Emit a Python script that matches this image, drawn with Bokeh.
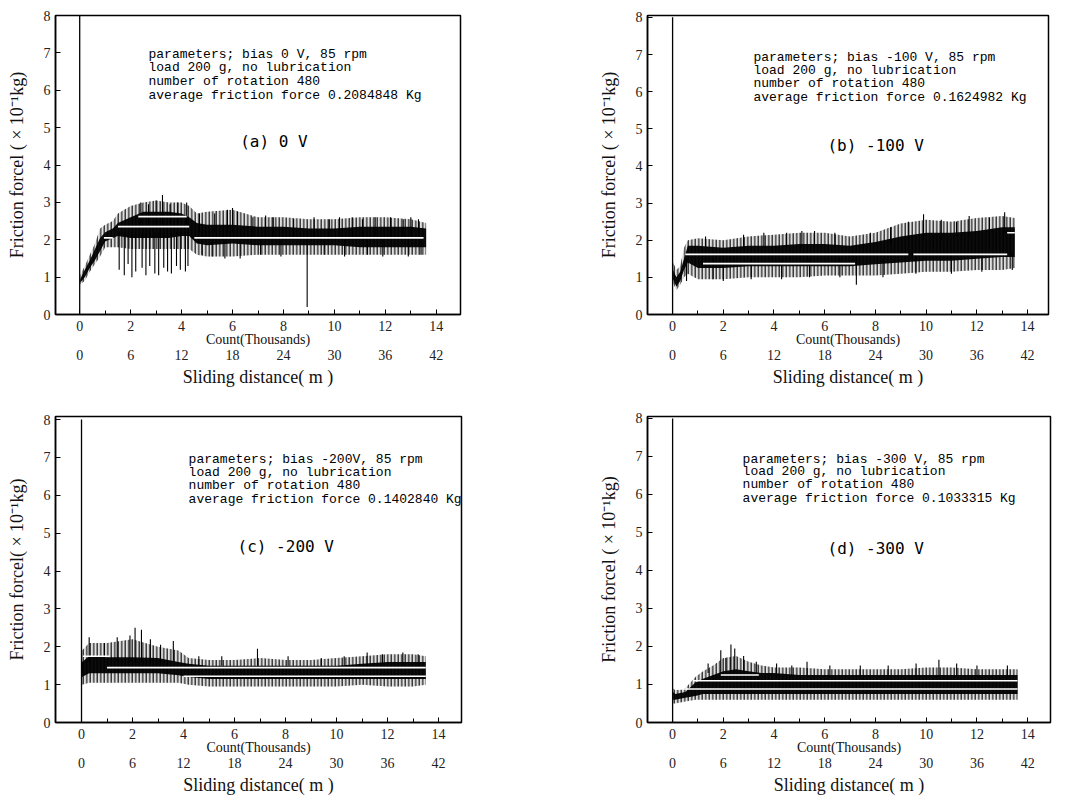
from bokeh.plotting import figure
from bokeh.layouts import column, row
from bokeh.models import Range1d, LinearAxis, FixedTicker, Label, ColumnDataSource
from bokeh.embed import file_html
from bokeh.resources import INLINE

# ---------------- data (count in thousands, friction force in 1e-1 kg) ----------------
# panel (a) 0 V
a_x = [0.02, 0.2, 0.4, 0.6, 0.8, 1.0, 1.3, 1.5, 2.0, 2.5, 3.0, 3.5, 4.0, 4.3, 4.6, 5.0, 6.0, 7.0, 8.0, 9.0, 10.0, 11.0, 12.0, 13.0, 13.6]
a_top = [1.05, 1.3, 1.6, 1.9, 2.3, 2.4, 2.5, 2.7, 2.9, 3.0, 3.05, 3.0, 3.0, 2.9, 2.7, 2.75, 2.8, 2.6, 2.6, 2.55, 2.55, 2.6, 2.6, 2.55, 2.45]
a_hi = [0.95, 1.2, 1.45, 1.75, 2.05, 2.2, 2.3, 2.45, 2.6, 2.75, 2.75, 2.75, 2.7, 2.6, 2.45, 2.4, 2.4, 2.35, 2.35, 2.3, 2.3, 2.35, 2.35, 2.35, 2.3]
a_lo = [0.85, 1.0, 1.25, 1.45, 1.7, 1.95, 2.05, 2.1, 2.05, 2.05, 2.05, 2.05, 2.1, 2.1, 1.9, 1.85, 1.9, 1.85, 1.85, 1.85, 1.85, 1.8, 1.8, 1.8, 1.8]
a_bot = [0.8, 0.9, 1.15, 1.35, 1.55, 1.8, 1.8, 1.8, 1.75, 1.75, 1.75, 1.75, 1.75, 1.75, 1.6, 1.55, 1.55, 1.6, 1.6, 1.6, 1.6, 1.6, 1.6, 1.6, 1.6]
a_spike_x = [1.55, 1.75, 1.9, 2.05, 2.2, 2.45, 2.6, 2.75, 2.95, 3.1, 3.3, 3.45, 3.6, 3.8, 3.95, 4.15, 4.25, 8.93,
             4.8, 5.2, 5.7, 6.3, 7.1, 7.9, 9.6, 10.4, 11.3, 11.9, 12.9, 13.4,
             2.4, 2.7, 3.0, 3.25, 3.55, 3.85, 4.2, 4.7, 5.3, 5.8, 6.0, 6.2, 6.8, 7.3, 7.6, 8.4, 9.2, 9.8,
             10.2, 10.7, 11.1, 11.6, 12.2, 12.7, 13.0, 13.3]
a_spike_lo = [1.2, 1.05, 1.35, 1.0, 1.15, 1.25, 1.05, 1.3, 1.1, 1.05, 1.25, 1.15, 1.1, 1.3, 1.2, 1.15, 1.3, 0.2,
              1.6, 1.55, 1.5, 1.5, 1.6, 1.55, 1.6, 1.55, 1.6, 1.55, 1.55, 1.6,
              2.4, 2.4, 2.4, 2.4, 2.4, 2.4, 2.4, 2.2, 2.2, 2.2, 2.2, 2.2, 2.1, 2.1, 2.1, 2.1, 2.1, 2.1,
              2.1, 2.1, 2.1, 2.1, 2.1, 2.1, 2.1, 2.1]
a_spike_hi = [2.2, 2.2, 2.2, 2.2, 2.2, 2.2, 2.2, 2.2, 2.2, 2.2, 2.2, 2.2, 2.2, 2.2, 2.2, 2.2, 2.2, 2.0,
              2.0, 2.0, 2.0, 2.0, 2.0, 2.0, 2.0, 2.0, 2.0, 2.0, 2.0, 2.0,
              3.0, 2.95, 3.05, 3.2, 2.95, 3.0, 3.0, 2.7, 2.7, 2.8, 2.85, 2.75, 2.6, 2.65, 2.6, 2.55, 2.6, 2.55,
              2.6, 2.6, 2.55, 2.6, 2.6, 2.55, 2.6, 2.55]
a_mean_x0 = [0.95, 1.5, 2.3, 4.5]
a_mean_x1 = [1.3, 4.3, 4.2, 13.5]
a_mean_y = [2.05, 2.35, 2.62, 2.05]

# panel (b) -100 V
b_x = [0.02, 0.15, 0.3, 0.45, 0.6, 1.0, 2.0, 3.0, 4.0, 5.0, 6.0, 7.0, 8.0, 9.0, 10.0, 11.0, 12.0, 13.0, 13.5]
b_top = [1.4, 1.2, 1.3, 1.8, 2.0, 2.05, 2.0, 2.1, 2.15, 2.2, 2.2, 2.1, 2.2, 2.45, 2.55, 2.5, 2.6, 2.65, 2.6]
b_hi = [1.2, 1.0, 1.15, 1.5, 1.85, 1.85, 1.8, 1.85, 1.85, 1.9, 1.9, 1.85, 1.95, 2.1, 2.2, 2.2, 2.25, 2.35, 2.35]
b_lo = [0.95, 0.75, 0.9, 1.2, 1.4, 1.25, 1.25, 1.3, 1.3, 1.3, 1.3, 1.3, 1.35, 1.4, 1.45, 1.45, 1.5, 1.55, 1.55]
b_bot = [0.85, 0.65, 0.8, 1.0, 1.1, 0.95, 0.95, 1.0, 1.0, 1.0, 1.05, 1.05, 1.05, 1.1, 1.15, 1.15, 1.2, 1.2, 1.25]
b_spike_x = [1.3, 2.8, 3.6, 4.5, 5.1, 5.6, 6.4, 7.8, 8.6, 9.3, 9.9, 10.6, 11.2, 11.7, 12.5, 13.1,
             0.55, 1.6, 2.0, 3.1, 4.3, 5.4, 6.6, 7.25, 8.3, 9.6, 11.0, 12.2, 13.4]
b_spike_lo = [1.8, 1.8, 1.8, 1.8, 1.8, 1.8, 1.8, 1.9, 1.9, 2.0, 2.0, 2.0, 2.1, 2.1, 2.1, 2.2,
              1.5, 1.5, 1.5, 1.5, 1.5, 1.5, 1.5, 1.5, 1.5, 1.6, 1.6, 1.6, 1.7]
b_spike_hi = [2.1, 2.15, 2.2, 2.2, 2.25, 2.25, 2.2, 2.2, 2.35, 2.5, 2.7, 2.55, 2.5, 2.65, 2.6, 2.75,
              0.9, 0.95, 0.9, 0.95, 0.95, 1.0, 1.0, 0.8, 1.0, 1.1, 1.1, 1.15, 1.2]
b_mean_x0 = [0.5, 1.2, 9.5, 13.2]
b_mean_x1 = [9.3, 7.2, 13.2, 13.5]
b_mean_y = [1.62, 1.37, 1.62, 2.2]

# panel (c) -200 V
c_x = [0.02, 0.3, 1.0, 2.0, 3.0, 3.8, 4.2, 5.0, 6.0, 7.0, 8.0, 9.0, 10.0, 11.0, 12.0, 13.0, 13.5]
c_top = [1.9, 2.1, 2.1, 2.2, 2.0, 1.9, 1.7, 1.65, 1.65, 1.7, 1.65, 1.65, 1.7, 1.75, 1.8, 1.8, 1.75]
c_hi = [1.6, 1.75, 1.72, 1.72, 1.7, 1.6, 1.55, 1.5, 1.5, 1.5, 1.5, 1.5, 1.5, 1.55, 1.6, 1.6, 1.6]
c_lo = [1.2, 1.3, 1.3, 1.3, 1.3, 1.25, 1.2, 1.15, 1.15, 1.15, 1.15, 1.15, 1.15, 1.15, 1.15, 1.15, 1.15]
c_bot = [1.0, 1.05, 1.05, 1.05, 1.05, 1.05, 1.0, 0.95, 0.95, 0.95, 0.95, 0.95, 0.95, 1.0, 0.95, 0.95, 1.0]
c_spike_x = [0.3, 0.9, 1.4, 1.9, 2.1, 2.35, 2.7, 3.1, 3.6, 4.6, 5.5, 6.9, 8.1, 9.4, 10.3, 11.2, 11.8, 12.6, 13.2]
c_spike_lo = [1.6, 1.6, 1.6, 1.6, 1.6, 1.6, 1.6, 1.6, 1.6, 1.5, 1.5, 1.5, 1.5, 1.5, 1.5, 1.5, 1.5, 1.5, 1.5]
c_spike_hi = [2.25, 2.1, 2.25, 2.3, 2.5, 2.45, 2.2, 2.05, 2.15, 1.75, 1.75, 1.95, 1.75, 1.7, 1.75, 1.85, 1.8, 1.85, 1.8]
c_mean_x0 = [0.05, 1.0, 4.0]
c_mean_x1 = [1.1, 13.5, 13.5]
c_mean_y = [1.75, 1.45, 1.22]

# panel (d) -300 V
d_x = [0.02, 0.1, 0.5, 0.9, 1.2, 1.6, 2.0, 2.5, 3.0, 3.5, 4.0, 5.0, 6.0, 7.0, 8.0, 9.0, 10.0, 11.0, 12.0, 13.0, 13.6]
d_top = [0.9, 0.85, 0.9, 1.2, 1.35, 1.5, 1.7, 1.75, 1.6, 1.5, 1.45, 1.45, 1.4, 1.4, 1.4, 1.4, 1.45, 1.45, 1.4, 1.4, 1.4]
d_hi = [0.8, 0.75, 0.8, 1.05, 1.15, 1.25, 1.35, 1.4, 1.35, 1.3, 1.3, 1.25, 1.25, 1.25, 1.25, 1.25, 1.25, 1.25, 1.25, 1.25, 1.25]
d_lo = [0.6, 0.6, 0.65, 0.7, 0.75, 0.75, 0.75, 0.75, 0.75, 0.75, 0.75, 0.75, 0.75, 0.75, 0.75, 0.75, 0.75, 0.75, 0.75, 0.75, 0.75]
d_bot = [0.5, 0.5, 0.55, 0.6, 0.6, 0.6, 0.6, 0.6, 0.6, 0.6, 0.6, 0.6, 0.6, 0.6, 0.6, 0.6, 0.6, 0.6, 0.6, 0.6, 0.6]
d_spike_x = [1.4, 1.9, 2.1, 2.3, 2.45, 2.8, 3.3, 4.1, 4.7, 5.3, 6.2, 7.4, 8.5, 9.6, 10.5, 11.2, 12.0, 13.2]
d_spike_lo = [1.3, 1.3, 1.3, 1.3, 1.3, 1.3, 1.3, 1.2, 1.2, 1.2, 1.2, 1.2, 1.2, 1.2, 1.2, 1.2, 1.2, 1.2]
d_spike_hi = [1.55, 1.9, 1.7, 2.05, 1.95, 1.75, 1.6, 1.55, 1.5, 1.6, 1.5, 1.5, 1.5, 1.55, 1.65, 1.55, 1.5, 1.5]
d_mean_x0 = [0.1, 0.8, 1.9]
d_mean_x1 = [13.6, 13.6, 3.4]
d_mean_y = [0.88, 1.1, 1.25]

start_y = [0, 8]  # recorder pen line at count 0

count_ticks = [0, 2, 4, 6, 8, 10, 12, 14]
count_minor = [1, 3, 5, 7, 9, 11, 13]
dist_ticks = [0, 6, 12, 18, 24, 30, 36, 42]
y_ticks = [0, 1, 2, 3, 4, 5, 6, 7, 8]

info = {
    "a": ["parameters; bias 0 V, 85 rpm", "load 200 g, no lubrication", "number of rotation 480",
          "average friction force 0.2084848 Kg"],
    "b": ["parameters; bias -100 V, 85 rpm", "load 200 g, no lubrication", "number of rotation 480",
          "average friction force 0.1624982 Kg"],
    "c": ["parameters; bias -200V, 85 rpm", "load 200 g, no lubrication", "number of rotation 480",
          "average friction force 0.1402840 Kg"],
    "d": ["parameters; bias -300 V, 85 rpm", "load 200 g, no lubrication", "number of rotation 480",
          "average friction force 0.1033315 Kg"],
}
titles = {"a": "(a) 0 V", "b": "(b) -100 V", "c": "(c) -200 V", "d": "(d) -300 V"}
ylabels = {"a": "Friction forcel ( × 10⁻¹kg)", "b": "Friction forcel ( × 10⁻¹kg)",
           "c": "Friction forcel( × 10⁻¹kg)", "d": "Friction forcel ( × 10⁻¹kg)"}

SERIF = "Liberation Serif"
MONO = "Liberation Mono"


def panel(key, x, top, hi, lo, bot, sx, slo, shi, mx0, mx1, my,
          width, height, borders, xr, yr, txt_pos, title_pos):
    left, right, top_b, bottom = borders
    p = figure(width=width, height=height, output_backend="svg", toolbar_location=None,
               x_range=Range1d(*xr), y_range=Range1d(*yr),
               min_border_left=left, min_border_right=right,
               min_border_top=top_b, min_border_bottom=bottom,
               x_axis_location=None, y_axis_location=None)
    p.xgrid.visible = False
    p.ygrid.visible = False
    p.outline_line_color = "black"
    p.outline_line_width = 1.5
    p.background_fill_color = "white"
    p.border_fill_color = "white"

    p.extra_x_ranges = {"dist": Range1d(xr[0] * 3, xr[1] * 3)}

    # y axis
    ya = LinearAxis(ticker=FixedTicker(ticks=y_ticks), axis_label=ylabels[key])
    ya.major_tick_in = 5
    ya.major_tick_out = 0
    ya.minor_tick_line_color = None
    ya.major_label_standoff = 5
    ya.axis_label_standoff = 14
    ya.major_label_text_font = SERIF
    ya.major_label_text_font_size = "14px"
    ya.major_label_text_color = "#222222"
    ya.axis_label_text_font = SERIF
    ya.axis_label_text_font_size = "18px"
    ya.axis_label_text_font_style = "normal"
    ya.axis_label_text_color = "#111111"
    ya.axis_line_width = 1.5
    p.add_layout(ya, "left")

    # count axis
    xa = LinearAxis(ticker=FixedTicker(ticks=count_ticks, minor_ticks=count_minor),
                    axis_label="Count(Thousands)")
    xa.major_tick_in = 5
    xa.major_tick_out = 0
    xa.minor_tick_in = 4
    xa.minor_tick_out = 0
    xa.major_label_standoff = 6
    xa.axis_label_standoff = -2
    xa.major_label_text_font = SERIF
    xa.major_label_text_font_size = "14px"
    xa.major_label_text_color = "#222222"
    xa.axis_label_text_font = SERIF
    xa.axis_label_text_font_size = "14px"
    xa.axis_label_text_font_style = "normal"
    xa.axis_label_text_color = "#111111"
    xa.axis_line_width = 1.5
    p.add_layout(xa, "below")

    # sliding distance axis
    da = LinearAxis(x_range_name="dist", ticker=FixedTicker(ticks=dist_ticks),
                    axis_label="Sliding distance( m )")
    da.axis_line_color = None
    da.major_tick_line_color = None
    da.minor_tick_line_color = None
    da.major_label_standoff = -6
    da.axis_label_standoff = 4
    da.major_label_text_font = SERIF
    da.major_label_text_font_size = "14px"
    da.major_label_text_color = "#222222"
    da.axis_label_text_font = SERIF
    da.axis_label_text_font_size = "18px"
    da.axis_label_text_font_style = "normal"
    da.axis_label_text_color = "#111111"
    p.add_layout(da, "below")

    src = ColumnDataSource(dict(x=x, top=top, hi=hi, lo=lo, bot=bot))
    p.varea(x="x", y1="bot", y2="top", source=src, fill_color="black", fill_alpha=0.12,
            hatch_pattern="vertical_line", hatch_color="black", hatch_scale=3.5,
            hatch_weight=1.2, hatch_alpha=0.9)
    p.segment(x0=sx, y0=slo, x1=sx, y1=shi, line_color="black", line_width=1.1)
    p.varea(x="x", y1="lo", y2="hi", source=src, fill_color="black", fill_alpha=0.95)
    p.segment(x0=mx0, y0=my, x1=mx1, y1=my, line_color="white", line_width=1.6)
    p.line(x=[0, 0], y=start_y, line_color="black", line_width=1.3)

    tx, ty = txt_pos
    for i, line in enumerate(info[key]):
        p.add_layout(Label(x=tx, y=ty[i], text=line, text_font=MONO, text_font_size="13px",
                           text_baseline="middle", text_color="black"))
    p.add_layout(Label(x=title_pos[0], y=title_pos[1], text=titles[key], text_font="DejaVu Sans Mono",
                       text_font_size="16px", text_baseline="middle", text_color="black"))
    return p


pa = panel("a", a_x, a_top, a_hi, a_lo, a_bot, a_spike_x, a_spike_lo, a_spike_hi,
           a_mean_x0, a_mean_x1, a_mean_y,
           535, 400, (55, 75, 10, 86), (-0.95, 14.95), (0, 8),
           (2.7, [6.95, 6.6, 6.24, 5.87]), (6.3, 4.63))
pb = panel("b", b_x, b_top, b_hi, b_lo, b_bot, b_spike_x, b_spike_lo, b_spike_hi,
           b_mean_x0, b_mean_x1, b_mean_y,
           536, 400, (112, 23, 15, 86), (-0.99, 14.83), (0, 8.05),
           (3.19, [6.91, 6.56, 6.21, 5.83]), (6.11, 4.54))
pc = panel("c", c_x, c_top, c_hi, c_lo, c_bot, c_spike_x, c_spike_lo, c_spike_hi,
           c_mean_x0, c_mean_x1, c_mean_y,
           535, 400, (55, 74, 15, 78), (-1.02, 14.9), (0, 8.08),
           (4.2, [6.95, 6.6, 6.26, 5.89]), (6.12, 4.66))
pd_ = panel("d", d_x, d_top, d_hi, d_lo, d_bot, d_spike_x, d_spike_lo, d_spike_hi,
            d_mean_x0, d_mean_x1, d_mean_y,
            536, 400, (112, 21, 16, 78), (-0.99, 14.9), (0, 8.05),
            (2.76, [6.91, 6.6, 6.25, 5.88]), (6.11, 4.58))

layout = column(row(pa, pb), row(pc, pd_))
open("out.html", "w").write(file_html(layout, INLINE))
